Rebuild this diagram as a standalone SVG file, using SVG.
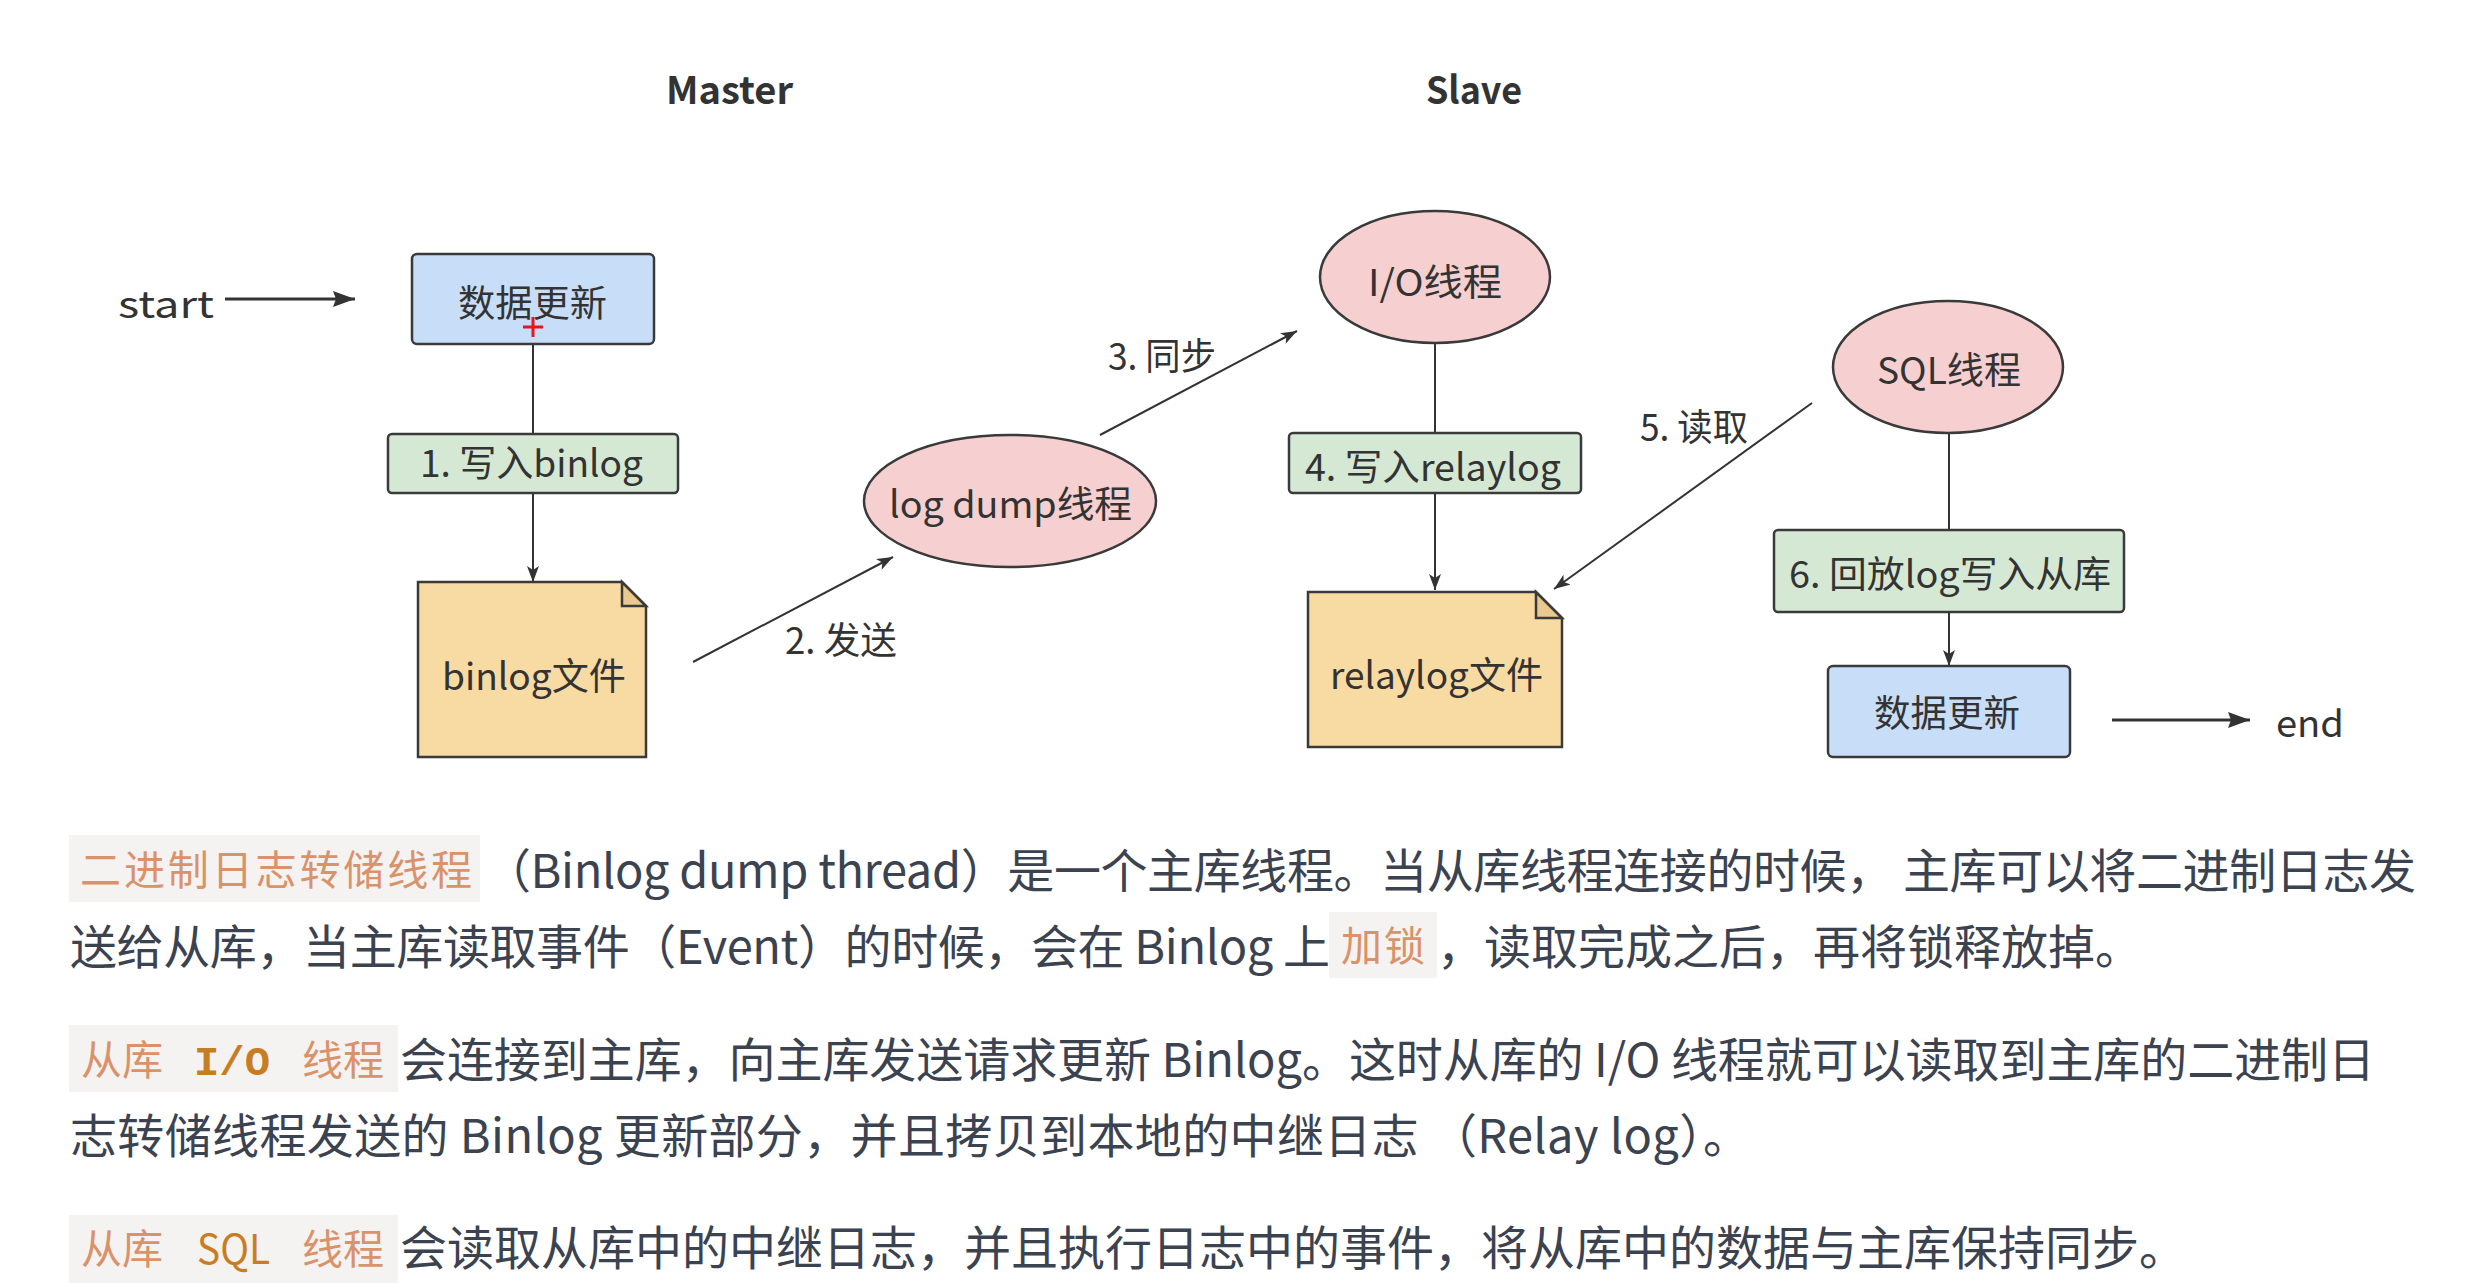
<svg xmlns="http://www.w3.org/2000/svg" width="2486" height="1283" viewBox="0 0 2486 1283">
<defs>
<style>
.lbl{font-family:"Noto Sans CJK SC","Liberation Sans",sans-serif;font-size:37px;fill:#333333}
.ttl{font-family:"Noto Sans CJK SC","Liberation Sans",sans-serif;font-size:38px;font-weight:bold;fill:#333333}
.box{stroke:#3a3a3a;stroke-width:2.5}
.blue{fill:#c8ddf7}
.green{fill:#d5e8d4}
.pink{fill:#f6d0d0}
.doc{fill:#f8daa3}
.fold{fill:#e9c98e}
.con{stroke:#333333;stroke-width:2;fill:none}
.big{stroke:#333333;stroke-width:3;fill:none}
.p{font-family:"Noto Sans CJK SC","Liberation Sans",sans-serif;font-size:47px;fill:#3b4250}
.hl{font-family:"Noto Sans CJK SC","Liberation Sans",sans-serif;font-size:41px;fill:#d9926a}
.hlc{font-family:"Liberation Mono","DejaVu Sans Mono",monospace;font-size:41px;font-weight:bold;fill:#c97d22}
.hls{font-family:"Noto Sans CJK SC","Liberation Sans",sans-serif;font-size:41px;fill:#c97d22}
.hbg{fill:#f5f3f1}
</style>
<marker id="arr" markerUnits="userSpaceOnUse" markerWidth="16" markerHeight="12" refX="16" refY="6" orient="auto">
<path d="M0,0 L16,6 L0,12 L4,6 Z" fill="#333333"/>
</marker>
<marker id="arrBig" markerUnits="userSpaceOnUse" markerWidth="22" markerHeight="16" refX="22" refY="8" orient="auto">
<path d="M0,0 L22,8 L0,16 L3,8 Z" fill="#333333"/>
</marker>
</defs>
<rect width="2486" height="1283" fill="#ffffff"/>

<text class="ttl" x="666" y="104" textLength="127" lengthAdjust="spacingAndGlyphs">Master</text>
<text class="ttl" x="1426" y="104" textLength="96" lengthAdjust="spacingAndGlyphs">Slave</text>

<g id="connectors">
<line class="big" x1="225" y1="299" x2="355" y2="299" marker-end="url(#arrBig)"/>
<line class="con" x1="533" y1="344" x2="533" y2="434"/>
<line class="con" x1="533" y1="493" x2="533" y2="582" marker-end="url(#arr)"/>
<line class="con" x1="693" y1="662" x2="893" y2="557" marker-end="url(#arr)"/>
<line class="con" x1="1100" y1="435" x2="1297" y2="331" marker-end="url(#arr)"/>
<line class="con" x1="1435" y1="343" x2="1435" y2="433"/>
<line class="con" x1="1435" y1="493" x2="1435" y2="590" marker-end="url(#arr)"/>
<line class="con" x1="1812" y1="403" x2="1554" y2="589" marker-end="url(#arr)"/>
<line class="con" x1="1949" y1="433" x2="1949" y2="530"/>
<line class="con" x1="1949" y1="612" x2="1949" y2="666" marker-end="url(#arr)"/>
<line class="big" x1="2112" y1="720" x2="2250" y2="720" marker-end="url(#arrBig)"/>
<text class="lbl" x="785" y="654" textLength="112" lengthAdjust="spacingAndGlyphs">2. 发送</text>
<text class="lbl" x="1108" y="370" textLength="108" lengthAdjust="spacingAndGlyphs">3. 同步</text>
<text class="lbl" x="1640" y="441" textLength="108" lengthAdjust="spacingAndGlyphs">5. 读取</text>
</g>

<g id="start">
<text class="lbl" x="118" y="318" font-size="42" textLength="96" lengthAdjust="spacingAndGlyphs">start</text>
</g>

<g id="master-update">
<rect class="box blue" x="412" y="254" width="242" height="90" rx="5"/>
<text class="lbl" x="458" y="317" textLength="149" lengthAdjust="spacingAndGlyphs">数据更新</text>
<path d="M523,327 H543 M533,317 V337" stroke="#e8141c" stroke-width="3" fill="none"/>
</g>

<g id="write-binlog">
<rect class="box green" x="388" y="434" width="290" height="59" rx="4"/>
<text class="lbl" x="420" y="477" textLength="223" lengthAdjust="spacingAndGlyphs">1. 写入binlog</text>
</g>

<g id="binlog-file">
<path class="box doc" d="M418,582 H622 L646,606 V757 H418 Z"/>
<path class="box fold" d="M622,582 V606 H646 Z"/>
<text class="lbl" x="442" y="690" textLength="184" lengthAdjust="spacingAndGlyphs">binlog文件</text>
</g>

<g id="log-dump">
<ellipse class="box pink" cx="1010" cy="501" rx="146" ry="66"/>
<text class="lbl" x="889" y="518" textLength="243" lengthAdjust="spacingAndGlyphs">log dump线程</text>
</g>

<g id="io-thread">
<ellipse class="box pink" cx="1435" cy="277" rx="115" ry="66"/>
<text class="lbl" x="1368" y="296" textLength="134" lengthAdjust="spacingAndGlyphs">I/O线程</text>
</g>

<g id="write-relaylog">
<rect class="box green" x="1289" y="433" width="292" height="60" rx="4"/>
<text class="lbl" x="1305" y="481" textLength="256" lengthAdjust="spacingAndGlyphs">4. 写入relaylog</text>
</g>

<g id="relaylog-file">
<path class="box doc" d="M1308,592 H1536 L1562,618 V747 H1308 Z"/>
<path class="box fold" d="M1536,592 V618 H1562 Z"/>
<text class="lbl" x="1330" y="689" textLength="213" lengthAdjust="spacingAndGlyphs">relaylog文件</text>
</g>

<g id="sql-thread">
<ellipse class="box pink" cx="1948" cy="367" rx="115" ry="66"/>
<text class="lbl" x="1877" y="384" textLength="144" lengthAdjust="spacingAndGlyphs">SQL线程</text>
</g>

<g id="replay">
<rect class="box green" x="1774" y="530" width="350" height="82" rx="4"/>
<text class="lbl" x="1789" y="588" textLength="322" lengthAdjust="spacingAndGlyphs">6. 回放log写入从库</text>
</g>

<g id="slave-update">
<rect class="box blue" x="1828" y="666" width="242" height="91" rx="5"/>
<text class="lbl" x="1874" y="727" textLength="146" lengthAdjust="spacingAndGlyphs">数据更新</text>
</g>

<g id="end">
<text class="lbl" x="2276" y="737" font-size="40" textLength="68" lengthAdjust="spacingAndGlyphs">end</text>
</g>

<g id="paragraphs">
<rect class="hbg" x="69" y="835" width="411" height="67"/>
<text class="hl" x="80" y="885" textLength="392" lengthAdjust="spacing">二进制日志转储线程</text>
<text class="p" x="484" y="888" textLength="1932" lengthAdjust="spacing">（Binlog dump thread）是一个主库线程。当从库线程连接的时候， 主库可以将二进制日志发</text>
<text class="p" x="70" y="964" textLength="1260" lengthAdjust="spacing">送给从库，当主库读取事件（Event）的时候，会在 Binlog 上</text>
<rect class="hbg" x="1329" y="912" width="108" height="66"/>
<text class="hl" x="1341" y="961" textLength="84" lengthAdjust="spacing">加锁</text>
<text class="p" x="1437" y="964">，读取完成之后，再将锁释放掉。</text>

<rect class="hbg" x="69" y="1025" width="329" height="67"/>
<text class="hl" x="81" y="1075">从库</text>
<text class="hlc" x="194" y="1075" textLength="76" lengthAdjust="spacingAndGlyphs">I/O</text>
<text class="hl" x="302" y="1075">线程</text>
<text class="p" x="400" y="1077" textLength="1975" lengthAdjust="spacing">会连接到主库，向主库发送请求更新 Binlog。这时从库的 I/O 线程就可以读取到主库的二进制日</text>
<text class="p" x="70" y="1153" textLength="1680" lengthAdjust="spacing">志转储线程发送的 Binlog 更新部分，并且拷贝到本地的中继日志 （Relay log）。</text>

<rect class="hbg" x="69" y="1215" width="329" height="68"/>
<text class="hl" x="81" y="1264">从库</text>
<text class="hls" x="197" y="1264" textLength="73" lengthAdjust="spacingAndGlyphs">SQL</text>
<text class="hl" x="302" y="1264">线程</text>
<text class="p" x="400" y="1265">会读取从库中的中继日志，并且执行日志中的事件，将从库中的数据与主库保持同步。</text>
</g>
</svg>
